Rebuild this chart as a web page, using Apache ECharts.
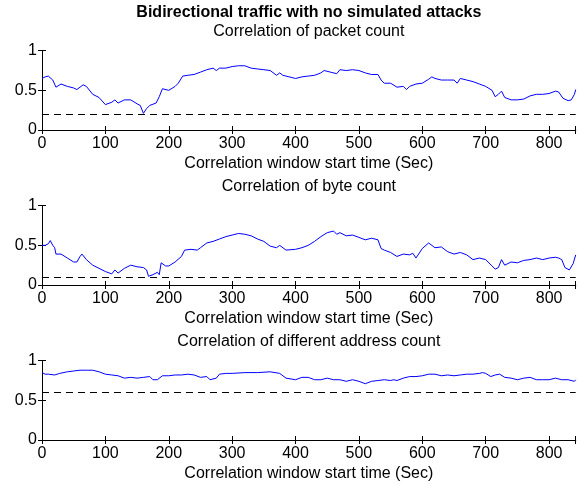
<!DOCTYPE html>
<html>
<head>
<meta charset="utf-8">
<script src="https://cdn.jsdelivr.net/npm/echarts@6/dist/echarts.min.js"></script>
<style>
html,body{margin:0;padding:0;background:#fff;}
#chart{width:580px;height:486px;}
</style>
</head>
<body>
<div id="chart"></div>
<script>
var mainTitle = 'Bidirectional traffic with no simulated attacks';
var panelTitles = ['Correlation of packet count', 'Correlation of byte count', 'Correlation of different address count'];
var xName = 'Correlation window start time (Sec)';
var xTicks = [0, 100, 200, 300, 400, 500, 600, 700, 800];
var yTicks = [0, 0.5, 1];
var thresholds = [0.2, 0.1, 0.6];

var packetTime = [0,5,10,13,17,20,22,30,40,50,55,60,65,70,80,90,100,110,115,120,130,140,150,155,160,165,170,180,185,190,200,210,215,222,230,240,250,260,270,275,280,290,300,310,320,330,340,350,360,370,375,380,
  400,410,420,430,440,445,455,465,470,480,490,500,510,520,530,535,540,550,560,570,575,580,590,600,610,615,620,630,640,650,655,660,670,680,690,700,710,715,720,725,730,740,750,760,770,780,790,800,810,815,818,822,830,835,840,842];
var packetCorr = [0.65,0.67,0.68,0.69,0.63,0.61,0.54,0.58,0.55,0.53,0.51,0.54,0.57,0.55,0.45,0.41,0.32,0.35,0.38,0.34,0.38,0.38,0.33,0.31,0.21,0.27,0.31,0.34,0.42,0.52,0.50,0.55,0.59,0.68,0.69,0.70,0.73,0.76,0.78,0.75,0.78,0.78,0.80,0.81,0.81,0.78,0.77,0.76,0.75,0.69,0.72,0.69,
  0.65,0.67,0.68,0.69,0.72,0.75,0.73,0.71,0.76,0.75,0.76,0.75,0.72,0.70,0.70,0.63,0.59,0.59,0.54,0.55,0.51,0.55,0.58,0.59,0.64,0.67,0.65,0.63,0.63,0.63,0.59,0.65,0.63,0.61,0.58,0.55,0.50,0.42,0.45,0.49,0.41,0.38,0.38,0.39,0.43,0.45,0.45,0.46,0.49,0.48,0.50,0.40,0.37,0.38,0.45,0.51];

var byteTime = [0,5,10,13,17,20,22,30,40,50,55,60,63,70,80,90,100,110,115,120,130,140,150,160,165,168,175,182,185,188,195,200,210,220,225,235,245,250,260,270,280,290,300,310,320,330,340,350,360,370,375,385,
  400,410,420,430,440,450,460,465,470,480,490,500,510,520,530,535,540,550,560,570,580,585,590,600,610,620,630,640,650,660,670,680,690,700,710,715,720,725,730,740,750,760,770,780,790,800,810,815,820,825,832,838,842];
var byteCorr = [0.50,0.50,0.52,0.56,0.50,0.47,0.39,0.39,0.34,0.29,0.29,0.36,0.39,0.32,0.25,0.21,0.17,0.14,0.19,0.15,0.21,0.25,0.23,0.22,0.19,0.11,0.13,0.16,0.13,0.28,0.24,0.24,0.29,0.36,0.44,0.45,0.44,0.47,0.53,0.55,0.58,0.61,0.63,0.65,0.64,0.62,0.58,0.55,0.49,0.47,0.50,0.44,
  0.45,0.47,0.50,0.55,0.61,0.66,0.68,0.64,0.66,0.62,0.63,0.60,0.57,0.59,0.57,0.46,0.44,0.41,0.36,0.39,0.38,0.40,0.34,0.46,0.53,0.47,0.48,0.42,0.39,0.41,0.38,0.32,0.34,0.32,0.24,0.20,0.22,0.32,0.25,0.29,0.28,0.31,0.32,0.34,0.32,0.34,0.35,0.34,0.32,0.22,0.19,0.27,0.38];

var addrTime = [0,5,10,20,23,28,40,50,60,70,80,90,100,110,120,130,140,150,160,170,175,182,190,200,210,220,230,240,250,260,265,275,280,290,300,320,340,360,375,385,
  400,410,420,430,440,450,460,470,480,490,500,510,520,530,540,550,555,560,570,580,590,600,610,620,630,640,650,660,670,680,690,695,700,708,715,722,730,740,750,760,770,780,790,800,810,820,830,840,842];
var addrCorr = [0.85,0.83,0.83,0.82,0.80,0.84,0.86,0.87,0.88,0.88,0.88,0.86,0.83,0.82,0.81,0.78,0.79,0.78,0.79,0.80,0.76,0.76,0.81,0.81,0.82,0.82,0.83,0.82,0.79,0.80,0.76,0.78,0.83,0.84,0.84,0.85,0.85,0.86,0.84,0.78,
  0.76,0.79,0.79,0.76,0.76,0.78,0.76,0.76,0.74,0.76,0.74,0.71,0.74,0.75,0.76,0.75,0.76,0.75,0.78,0.80,0.80,0.81,0.83,0.83,0.81,0.82,0.81,0.82,0.83,0.83,0.84,0.85,0.84,0.80,0.82,0.83,0.79,0.78,0.76,0.78,0.79,0.76,0.76,0.76,0.78,0.76,0.76,0.74,0.76];

var font = 'Liberation Sans, Arial, Helvetica, sans-serif';
var fs = 16;
var xMax = 842;
var gridTops = [50.7, 205.7, 360.7];
var gridH = 79.3;
var gridLeft = 42, gridRight = 4.3;
var plotMid = gridLeft + (580 - gridLeft - gridRight) / 2;

function pairs(xs, ys) {
  var out = [];
  for (var i = 0; i < xs.length; i++) out.push([xs[i], ys[i]]);
  return out;
}
var seriesData = [pairs(packetTime, packetCorr), pairs(byteTime, byteCorr), pairs(addrTime, addrCorr)];

var grids = [], xAxes = [], yAxes = [], series = [], texts = [];
var axisLine = {show: true, lineStyle: {color: '#000', width: 1}};
var tick = {show: true, inside: true, length: 4, lineStyle: {color: '#000'}};

function textEl(str, y, bold) {
  return {type: 'text', x: plotMid, y: y,
    style: {text: str, fontSize: fs, fontWeight: bold ? 'bold' : 'normal', fontFamily: font,
      fill: '#000', align: 'center', verticalAlign: 'middle'}};
}

for (var i = 0; i < 3; i++) {
  grids.push({left: gridLeft, right: gridRight, top: gridTops[i], height: gridH});
  xAxes.push({
    type: 'value', gridIndex: i, min: 0, max: xMax, interval: 100, position: 'bottom',
    axisLine: axisLine, axisTick: tick, splitLine: {show: false},
    axisLabel: {color: '#000', fontSize: fs, fontFamily: font, margin: 6,
      formatter: function (v) { return xTicks.indexOf(v) >= 0 ? String(v) : ''; }}
  });
  yAxes.push({
    type: 'value', gridIndex: i, min: 0, max: 1, interval: 0.5, position: 'left',
    axisLine: axisLine, axisTick: tick, splitLine: {show: false},
    axisLabel: {color: '#000', fontSize: fs, fontFamily: font, margin: 5,
      formatter: function (v) { return yTicks.indexOf(v) >= 0 ? String(v) : ''; }}
  });
  series.push({
    type: 'line', xAxisIndex: i, yAxisIndex: i, data: seriesData[i],
    showSymbol: false, symbol: 'none', animation: false,
    lineStyle: {color: '#0000ff', width: 1},
    markLine: {
      silent: true, symbol: 'none', animation: false, label: {show: false},
      lineStyle: {color: '#000', width: 1, type: [7, 5]},
      data: [{yAxis: thresholds[i]}]
    }
  });
  texts.push(textEl(panelTitles[i], gridTops[i] - 19.5, false));
  texts.push(textEl(xName, gridTops[i] + gridH + 34, false));
}
// top and right box edges with inward ticks
for (var j = 0; j < 3; j++) {
  xAxes.push({
    type: 'value', gridIndex: j, min: 0, max: xMax, interval: 100, position: 'top',
    axisLine: axisLine, axisTick: tick, axisLabel: {show: false}, splitLine: {show: false}
  });
  yAxes.push({
    type: 'value', gridIndex: j, min: 0, max: 1, interval: 0.5, position: 'right',
    axisLine: axisLine, axisTick: tick, axisLabel: {show: false}, splitLine: {show: false}
  });
}
texts.push(textEl(mainTitle, 12.5, true));

var chart = echarts.init(document.getElementById('chart'), null, {renderer: 'canvas'});
chart.setOption({
  animation: false,
  backgroundColor: '#fff',
  grid: grids,
  xAxis: xAxes,
  yAxis: yAxes,
  series: series,
  graphic: texts
});
</script>
</body>
</html>
